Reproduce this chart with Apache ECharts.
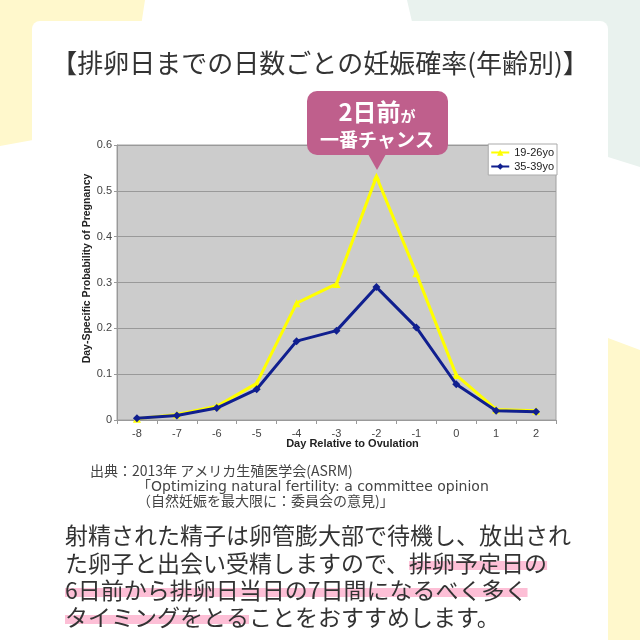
<!DOCTYPE html>
<html>
<head>
<meta charset="utf-8">
<script src="https://cdn.jsdelivr.net/npm/echarts@6/dist/echarts.min.js"></script>
<style>
	html, body { margin: 0; padding: 0; background: #fff; }
	#mychart { width: 640px; height: 640px; }
</style>
</head>
<body>
<div id="mychart"></div>
<script>
// values
var days = ['-8', '-7', '-6', '-5', '-4', '-3', '-2', '-1', '0', '1', '2'];
var rateYoung = [0.003, 0.012, 0.03, 0.08, 0.255, 0.297, 0.531, 0.32, 0.098, 0.023, 0.02];
var rateOlder = [0.004, 0.01, 0.026, 0.067, 0.172, 0.195, 0.29, 0.202, 0.078, 0.02, 0.018];
var seriesNames = ['19-26yo', '35-39yo'];
var yMax = 0.6;
var yStep = 0.1;

var titleText = '【排卵日までの日数ごとの妊娠確率(年齢別)】';
var calloutLines = ['2日前', 'が', '一番チャンス'];
var sourceLines = [
	'出典：2013年 アメリカ生殖医学会(ASRM)',
	'「Optimizing natural fertility: a committee opinion',
	'（自然妊娠を最大限に：委員会の意見)」'
];
var bodyLines = [
	'射精された精子は卵管膨大部で待機し、放出され',
	'た卵子と出会い受精しますので、排卵予定日の',
	'6日前から排卵日当日の7日間になるべく多く',
	'タイミングをとることをおすすめします。'
];
// highlighted part of each body line: [from, to] char index, null = none
var bodyMarks = [null, [15, 21], [0, 21], [0, 8]];

var jpFont = '"Noto Sans CJK JP", sans-serif';
var enFont = '"Liberation Sans", Arial, sans-serif';
var srcLatinFont = '"DejaVu Sans", "Noto Sans CJK JP", sans-serif';

var page = {
	initial : function initial() {
		this.drawChart();
	},

	textWidth : function textWidth(str, size) {
		var ctx = document.createElement('canvas').getContext('2d');
		ctx.font = size + 'px ' + jpFont;
		return ctx.measureText(str).width;
	},

	buildDecor : function buildDecor() {
		var g = [];
		// background shapes, kept under the chart
		g.push({ type : 'polygon', z : -20, shape : { points : [[0, 0], [145, 0], [125, 130], [33, 140], [0, 146]] }, style : { fill : '#fff8cc' } });
		g.push({ type : 'polygon', z : -20, shape : { points : [[407, 0], [640, 0], [640, 167], [608, 157], [430, 100]] }, style : { fill : '#e9f2ee' } });
		g.push({ type : 'polygon', z : -20, shape : { points : [[560, 320], [640, 350], [640, 640], [560, 640]] }, style : { fill : '#fff8cc' } });
		g.push({ type : 'rect', z : -19, shape : { x : 32, y : 21, width : 576, height : 700, r : 8 }, style : { fill : '#fff' } });

		// title
		g.push({ type : 'text', z : 5, x : 320, y : 63, style : {
			text : titleText, fill : '#333', fontSize : 26, fontFamily : jpFont,
			align : 'center', verticalAlign : 'middle'
		}});

		// callout
		g.push({ type : 'rect', z : 5, shape : { x : 307, y : 91, width : 141, height : 64, r : 10 }, style : { fill : '#bf5f8c' } });
		g.push({ type : 'polygon', z : 5, shape : { points : [[368, 154], [386, 154], [377, 170]] }, style : { fill : '#bf5f8c' } });
		g.push({ type : 'text', z : 6, x : 377, y : 112, style : {
			text : '{a|' + calloutLines[0] + '}{b|' + calloutLines[1] + '}',
			align : 'center', verticalAlign : 'middle',
			rich : {
				a : { fill : '#fff', fontSize : 24, fontWeight : 'bold', fontFamily : jpFont, verticalAlign : 'bottom' },
				b : { fill : '#fff', fontSize : 15, fontWeight : 'bold', fontFamily : jpFont, verticalAlign : 'bottom' }
			}
		}});
		g.push({ type : 'text', z : 6, x : 377, y : 140, style : {
			text : calloutLines[2], fill : '#fff', fontSize : 19, fontWeight : 'bold', fontFamily : jpFont,
			align : 'center', verticalAlign : 'middle'
		}});

		// source
		var srcX = [90, 137, 137];
		var srcY = [471, 487, 501];
		var srcFont = [jpFont, srcLatinFont, jpFont];
		var srcSize = [14, 14, 14];
		for (var i = 0; i < sourceLines.length; i++) {
			g.push({ type : 'text', z : 5, x : srcX[i], y : srcY[i], style : {
				text : sourceLines[i], fill : '#444', fontSize : srcSize[i], fontFamily : srcFont[i],
				align : 'left', verticalAlign : 'middle'
			}});
		}

		// body text with marker highlight
		var bodyY = [535, 563, 590, 617];
		var bodySize = 23;
		for (var j = 0; j < bodyLines.length; j++) {
			var mark = bodyMarks[j];
			if (mark) {
				var x0 = 65 + page.textWidth(bodyLines[j].substring(0, mark[0]), bodySize);
				var w = page.textWidth(bodyLines[j].substring(mark[0], mark[1]), bodySize);
				g.push({ type : 'rect', z : 4, shape : { x : x0, y : bodyY[j] - 2, width : w, height : 9 }, style : { fill : '#fdbfd6' } });
			}
			g.push({ type : 'text', z : 5, x : 65, y : bodyY[j], style : {
				text : bodyLines[j], fill : '#333', fontSize : bodySize, fontFamily : jpFont,
				align : 'left', verticalAlign : 'middle'
			}});
		}
		return g;
	},

	drawChart : function drawChart() {
		var option = {
			animation : false,
			graphic : { elements : page.buildDecor() },
			grid : {
				left : 117, right : 84, top : 145, bottom : 220,
				show : true, backgroundColor : '#cccccc', borderColor : '#a0a0a0', borderWidth : 1,
				z : 0
			},
			legend : {
				data : seriesNames,
				orient : 'vertical',
				right : 83, top : 144,
				backgroundColor : '#fff', borderColor : '#aaa', borderWidth : 1,
				padding : [3, 3, 3, 2], itemGap : 3,
				itemWidth : 18, itemHeight : 8,
				textStyle : { fontSize : 11, color : '#222', fontFamily : enFont },
				z : 10
			},
			xAxis : {
				type : 'category',
				data : days,
				boundaryGap : true,
				z : 1,
				name : 'Day Relative to Ovulation',
				nameLocation : 'middle',
				nameGap : 18,
				nameMoveOverlap : false,
				nameTextStyle : { fontWeight : 'bold', fontSize : 11, color : '#222', fontFamily : enFont, padding : [0, 0, 0, 32] },
				axisLine : { lineStyle : { color : '#999' } },
				axisTick : { show : true, length : 4, lineStyle : { color : '#999' } },
				axisLabel : { color : '#444', fontSize : 11, margin : 8, fontFamily : enFont }
			},
			yAxis : {
				type : 'value',
				min : 0, max : yMax, interval : yStep,
				z : 1,
				name : 'Day-Specific Probability of Pregnancy',
				nameLocation : 'middle',
				nameRotate : 90,
				nameGap : 24,
				nameMoveOverlap : false,
				nameTextStyle : { fontWeight : 'bold', fontSize : 10.5, color : '#222', fontFamily : enFont, padding : [0, 0, 0, 28] },
				axisLine : { show : true, lineStyle : { color : '#999' } },
				axisTick : { show : true, length : 3, lineStyle : { color : '#999' } },
				axisLabel : {
					color : '#444', fontSize : 11, margin : 5, fontFamily : enFont,
					formatter : function(v) { return v === 0 ? '0' : v.toFixed(1); }
				},
				splitLine : { lineStyle : { color : '#999' } }
			},
			series : [
				{
					name : seriesNames[0],
					type : 'line',
					data : rateYoung,
					symbol : 'triangle', symbolSize : 8,
					lineStyle : { color : '#ffff00', width : 3 },
					itemStyle : { color : '#ffff00' },
					z : 3
				},
				{
					name : seriesNames[1],
					type : 'line',
					data : rateOlder,
					symbol : 'diamond', symbolSize : 8,
					lineStyle : { color : '#101f8f', width : 3 },
					itemStyle : { color : '#101f8f' },
					z : 4
				}
			]
		};
		var myChart = echarts.init(document.getElementById('mychart'));
		myChart.setOption(option);
	}
};

page.initial();
</script>
</body>
</html>
